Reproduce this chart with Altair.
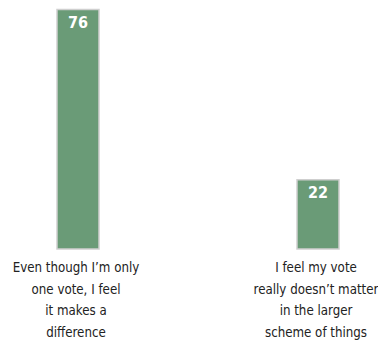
import altair as alt
import pandas as pd

categories = ["Even though I\u2019m only\none vote, I feel\nit makes a\ndifference",
              "I feel my vote\nreally doesn\u2019t matter\nin the larger\nscheme of things"]
keys = ["a", "b"]
values = [76, 22]

df = pd.DataFrame({"key": keys, "label": categories, "value": values})

FONT = "DejaVu Sans Condensed, sans-serif"

x = alt.X("key:N", axis=None, scale=alt.Scale(type="point", range=[70, 310], padding=0))
y = alt.Y("value:Q", axis=None, scale=alt.Scale(domain=[0, 76.5], range=[241, 0], nice=False))

bars = alt.Chart(df).mark_bar(size=42, color="#6a9b77", stroke="#cfcfcf", strokeWidth=1.5).encode(x=x, y=y)

nums = alt.Chart(df).mark_text(
    baseline="top", dy=5, color="white", fontWeight="bold", fontSize=16, font=FONT
).encode(x=x, y=y, text="value:Q")

labels = alt.Chart(df).mark_text(
    baseline="top", lineBreak="\n", fontSize=13.2, lineHeight=21.5, dx=-2,
    color="#222222", font=FONT
).encode(x=x, y=alt.value(254), text="label:N")

chart = alt.layer(bars, nums, labels).properties(
    width=370, height=340, padding=0, autosize=alt.AutoSizeParams(type="none")
).configure_view(stroke=None)

chart.save("out.html", embed_options={"renderer": "svg", "actions": False})
